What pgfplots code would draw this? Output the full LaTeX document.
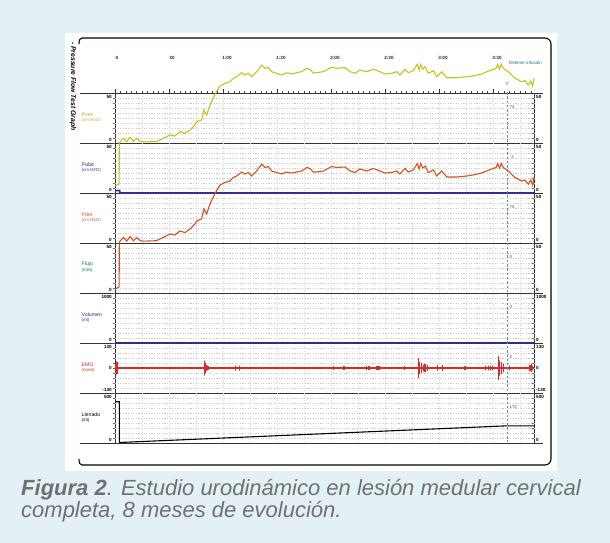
\documentclass[border=0pt]{standalone}
\usepackage{pgfplots}
\usepackage{pgfplotstable}
\pgfplotsset{compat=1.18}
\usepackage{fontspec}
\setmainfont{Liberation Sans}
\definecolor{bgblue}{HTML}{E3F1F7}
\definecolor{cPves}{HTML}{C8C220}
\definecolor{cPabd}{HTML}{2E3192}
\definecolor{cPdet}{HTML}{D4531F}
\definecolor{cFlujo}{HTML}{157A3C}
\definecolor{cVol}{HTML}{2B2F8A}
\definecolor{cEMG}{HTML}{D42A2A}
\definecolor{cCap}{HTML}{707070}
\definecolor{cDash}{HTML}{5E8FA2}
\definecolor{cInf}{HTML}{1B6D8A}

\pgfplotstableread{
t pves pdet
0 -43 -46
2.3 -41 -44
2.4 0 1
4.7 4.7 5.5
6.5 1.3 2
8.4 5.7 6.5
10.2 1.5 2.3
12.0 4.7 5.5
13.9 1.7 2.5
15.7 1 1.8
23 1.5 2.3
25 3 4
27.8 5.7 6.5
30.5 8 9
33.3 7 8
36 11.3 12
38.9 9.7 10.5
41.7 13 14
44.4 18 19
45.4 21.3 22
48.1 23 24
49.4 33 34
50.9 28 29
52.8 38 39
54.6 45 46
56.5 51.7 52.5
58.3 57 58
61.1 59.7 60.5
63.9 61.3 62
65.7 64.7 65.5
67.6 66.3 67
70.4 70.3 71
72.2 68 69
74.1 69.7 70.5
75.9 66.3 67
78.7 71.3 72
81.5 78 79
83.3 74.7 75.5
85.2 75.7 76.5
87 71.3 72
89.8 69.7 70.5
92.6 68 69
95.4 70.3 71
98.1 69 70
100.9 70.3 71
103.7 71.3 72
106.5 74.7 75.5
108.3 73.7 74.5
110.2 70 71
112 70.3 71
115.7 71.3 72
120.4 75.7 76.5
123.1 74.7 75.5
127.8 75.3 76
130.6 71.3 72
133.3 69.7 70.5
136.1 73 74
139.8 71.3 72
143.5 73.7 74.5
147.2 71.3 72
150 69 70
153.7 69.7 70.5
156.5 71.3 72
158.3 68 69
161.1 73.7 74.5
162.9 70.3 71
165.7 72.3 73
167.9 78.7 79.5
169 73 74
169.8 78.7 79.5
171 74 75
172.4 76.3 77
174 69.7 70.5
176.9 72.3 73
178.7 66.3 67
181.5 71.3 72
184.3 65.3 66
189.8 65.3 66
195.4 66.3 67
199 67 68
203.7 69 70
206.5 71.3 72
209.3 73 74
211.7 74.7 75.5
212.6 78.7 79.5
213.6 74 75
214.6 78.7 79.5
215.7 74.7 75.5
218.5 71.3 72
222.2 64.7 65.5
225.9 61.3 62
227.7 62.5 63
229.6 58 59
231 62 63
232 57 58
232.8 64.7 65.5
}\presdata

\pgfplotstableread{
t v
0 0
0.6 0
0.6 25
0.6 -25
0.6 0
0.9 0
0.9 35
0.9 -35
0.9 0
1.2 0
1.2 30
1.2 -30
1.2 0
1.6 0
1.6 18
1.6 -18
1.6 0
49.6 0
49.6 38
49.6 -38
49.6 0
50.2 0
50.2 25
50.2 -25
50.2 0
50.8 0
50.8 15
50.8 -15
50.8 0
51.4 0
51.4 12
51.4 -12
51.4 0
52.0 0
52.0 10
52.0 -10
52.0 0
67 0
67 13
67 -13
67 0
69 0
69 13
69 -13
69 0
121.3 0
121.3 10
121.3 -10
121.3 0
127.2 0
127.2 10
127.2 -10
127.2 0
139.8 0
139.8 10
139.8 -10
139.8 0
141.1 0
141.1 10
141.1 -10
141.1 0
145.6 0
145.6 10
145.6 -10
145.6 0
146.3 0
146.3 10
146.3 -10
146.3 0
147.0 0
147.0 10
147.0 -10
147.0 0
160.7 0
160.7 10
160.7 -10
160.7 0
168.5 0
168.5 52
168.5 -52
168.5 0
169.3 0
169.3 30
169.3 -30
169.3 0
170.4 0
170.4 26
170.4 -26
170.4 0
171.3 0
171.3 18
171.3 -18
171.3 0
172.2 0
172.2 20
172.2 -20
172.2 0
173.5 0
173.5 15
173.5 -15
173.5 0
179.1 0
179.1 15
179.1 -15
179.1 0
182 0
182 15
182 -15
182 0
194.4 0
194.4 10
194.4 -10
194.4 0
206 0
206 12
206 -12
206 0
207.4 0
207.4 12
207.4 -12
207.4 0
208.6 0
208.6 12
208.6 -12
208.6 0
209.8 0
209.8 12
209.8 -12
209.8 0
212.9 0
212.9 62
212.9 -62
212.9 0
213.6 0
213.6 40
213.6 -40
213.6 0
214.8 0
214.8 31
214.8 -31
214.8 0
216 0
216 21
216 -21
216 0
219 0
219 12
219 -12
219 0
230.6 0
230.6 15
230.6 -15
230.6 0
231.3 0
231.3 20
231.3 -20
231.3 0
231.9 0
231.9 12
231.9 -12
231.9 0
232.8 0
}\emgdata

\pgfplotstableread{
t ml
0 413
2.4 413
2.4 5
218 172
232.8 172
}\filldata

\pgfplotstableread{
t p
0 2.5
2.6 2.5
2.8 0
232.8 0
}\pabddata

\pgfplotstableread{
t v
0 0
232.8 0
}\voldata

\begin{document}
\begin{tikzpicture}[x=1pt,y=1pt]
\path[use as bounding box] (0,0) rectangle (610,-543);
\fill[bgblue] (0,0) rectangle (610,-543);
\fill[white] (65,-33) rectangle (557,-471);

% panel boundaries and axis lines
\foreach \y in {93,143,193,243,293,343,393,443}
  \draw[line width=0.9pt, black!80] (80,-\y) -- (543,-\y);
\draw[line width=0.8pt, black!80] (115,-93) -- (115,-443);
\draw[line width=0.8pt, black!80] (534,-93) -- (534,-443);
\foreach \y in {98,103,...,438} {
  \draw[line width=0.4pt, black!60] (112.5,-\y) -- (115,-\y);
  \draw[line width=0.4pt, black!60] (531.5,-\y) -- (534,-\y);
}
\foreach \i in {0,...,77} {
  \pgfmathsetmacro\xx{115+5.4*\i}
  \draw[line width=0.4pt, black!75] (\xx,-93) -- (\xx,-90.5);
}
\foreach \i in {0,...,7} {
  \pgfmathsetmacro\xx{115+54*\i}
  \draw[line width=0.5pt, black!80] (\xx,-93) -- (\xx,-88.5);
}

\begin{axis}[
  at={(115pt,-443pt)}, anchor=south west,
  x=1.8pt, y=1pt,
  xmin=0, xmax=232.8, ymin=0, ymax=350,
  clip=false,
  axis line style={draw=none},
  xtick={15,30,...,225}, ytick={0,50,...,350},
  minor y tick num=9,
  xticklabels={}, yticklabels={},
  major tick length=0pt, minor tick length=0pt,
  xmajorgrids=true, ymajorgrids=false, yminorgrids=true,
  major grid style={black!16, dash pattern=on 1pt off 1.6pt, line width=0.35pt},
  minor grid style={black!20, dash pattern=on 1.2pt off 1.4pt, line width=0.35pt},
]
\addplot[cVol, line width=1.8pt] table[x=t, y expr=\thisrow{v}+100] {\voldata};
\addplot[cPabd, line width=1.6pt] table[x=t, y expr=\thisrow{p}+250] {\pabddata};
\addplot[cEMG, line width=1.2pt] table[x=t, y expr=75+\thisrow{v}*25/130] {\emgdata};
\addplot[black, line width=1.1pt] table[x=t, y expr=\thisrow{ml}/10] {\filldata};
\addplot[cPdet, line width=1.1pt] table[x=t, y expr=\thisrow{pdet}+200] {\presdata};
\addplot[cPves, line width=1.1pt] table[x=t, y expr=\thisrow{pves}+300] {\presdata};
\end{axis}

% dashed marker line
\draw[cDash, line width=0.6pt, dash pattern=on 2.5pt off 1.8pt] (507.4,-92) -- (507.4,-442);
\node[font=\fontsize{5}{5}\selectfont, text=cDash!80!black, inner sep=0pt] at (507.4,-84) {V};
\node[font=\fontsize{4.5}{5}\selectfont, text=cInf, anchor=west, inner sep=0pt] at (509,-63) {Detener infusión};

% frame
\draw[line width=1.1pt] (82,-38) -- (545,-38) arc[start angle=90,end angle=0,radius=6] -- (551,-459) arc[start angle=0,end angle=-90,radius=6] -- (82,-465);
\draw[line width=1.1pt] (82,-38) .. controls (80,-38) and (79,-40) .. (79,-44);
\draw[line width=1.1pt] (79,-459) .. controls (79,-463) and (80,-465) .. (82,-465);

\node[rotate=-90, anchor=west, inner sep=0pt, font=\fontsize{6.8}{7}\selectfont\bfseries\itshape] at (73,-42) {- Pressure Flow Test Graph};

% time labels
\foreach \lab/\xx in {0/117,30/172,1:00/227,1:30/281,2:00/335,2:30/389,3:00/443,3:30/497}
  \node[font=\fontsize{4.6}{5}\selectfont\bfseries, text=black!85, inner sep=0pt] at (\xx,-58) {\lab};

% panel labels
\foreach \tp/\nm/\un/\cl in {93/Pves/{(cm H2O)}/cPves!90!black, 143/Pabd/{(cm H2O)}/cPabd, 193/Pdet/{(cm H2O)}/cPdet, 243/Flujo/{(ml/s)}/cFlujo, 293/Volumen/{(ml)}/cVol, 343/EMG/{(none)}/cEMG, 393/Llenado/{(ml)}/black} {
  \node[anchor=west, inner sep=0pt, text=\cl, font=\fontsize{5.2}{5}\selectfont] at (81.5,-\tp-21.5) {\nm};
  \node[anchor=west, inner sep=0pt, text=\cl, font=\fontsize{4.4}{5}\selectfont] at (81.5,-\tp-27.5) {\un};
}

% scale labels left and right
\foreach \tp/\hi/\lo in {93/50/0, 143/50/0, 193/50/0, 243/50/0, 293/1000/0, 343/130/-130, 393/500/0} {
  \node[anchor=east, inner sep=0pt, font=\fontsize{4.6}{5}\selectfont\bfseries] at (112,-\tp-3.5) {\hi};
  \node[anchor=east, inner sep=0pt, font=\fontsize{4.6}{5}\selectfont\bfseries] at (112,-\tp-47) {\lo};
  \node[anchor=west, inner sep=0pt, font=\fontsize{4.6}{5}\selectfont\bfseries] at (536,-\tp-3.5) {\hi};
  \node[anchor=west, inner sep=0pt, font=\fontsize{4.6}{5}\selectfont\bfseries] at (536,-\tp-47) {\lo};
}
\node[anchor=east, inner sep=0pt, font=\fontsize{4.6}{5}\selectfont\bfseries] at (112,-368) {0};
\node[anchor=west, inner sep=0pt, font=\fontsize{4.6}{5}\selectfont\bfseries] at (536,-368) {0};

% current values at the marker
\foreach \tp/\vv in {93/74, 143/-1, 193/75, 243/0, 293/0, 343/2, 393/170}
  \node[anchor=west, inner sep=0pt, text=black!70, font=\fontsize{4.3}{5}\selectfont] at (509.5,-\tp-14) {\vv};

% caption
\node[anchor=base west, inner sep=0pt, text=cCap, font=\fontsize{22}{22}\selectfont\itshape] at (21,-495) {{\bfseries Figura 2}. Estudio urodinámico en lesión medular cervical};
\node[anchor=base west, inner sep=0pt, text=cCap, font=\fontsize{22}{22}\selectfont\itshape] at (21,-517) {completa, 8 meses de evolución.};
\end{tikzpicture}
\end{document}
